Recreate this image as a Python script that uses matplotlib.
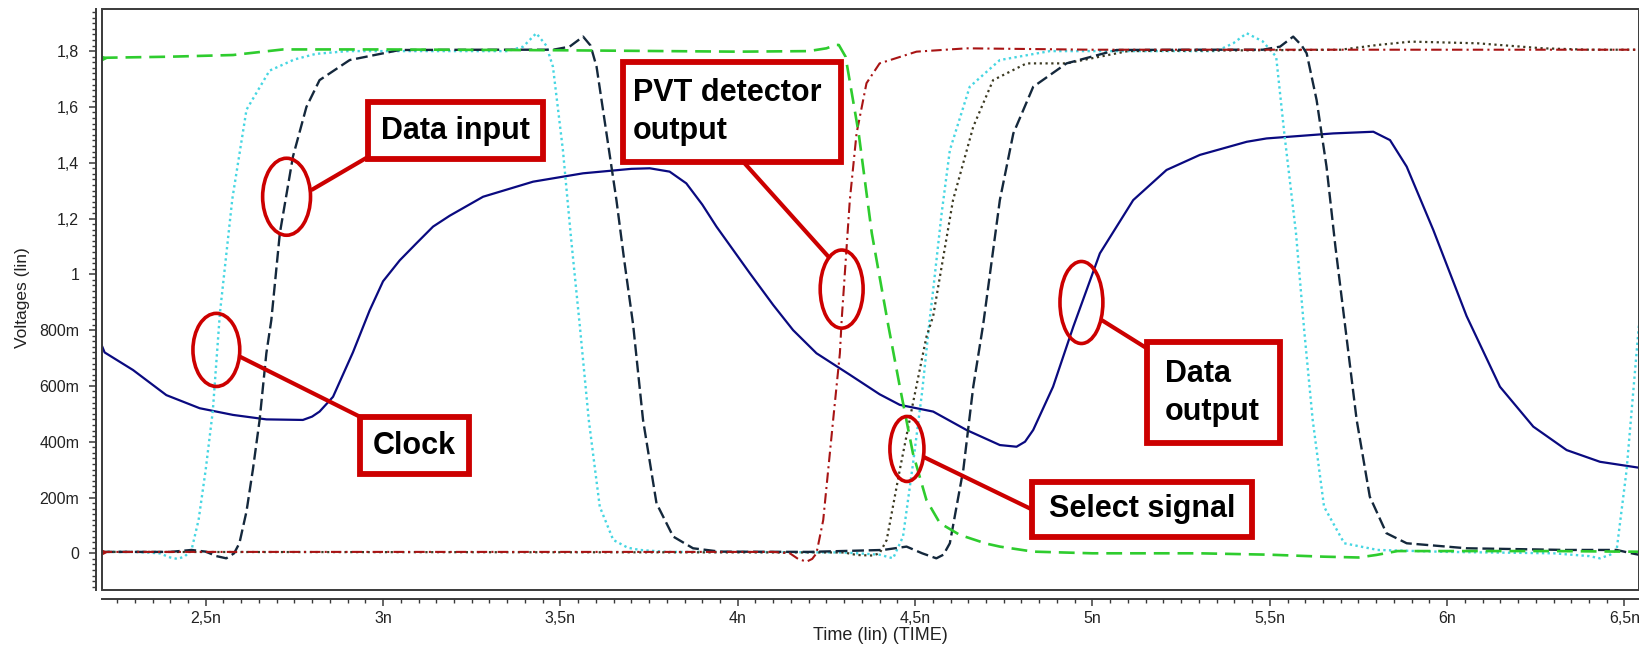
import matplotlib
matplotlib.use("Agg")
import matplotlib.pyplot as plt
from matplotlib import font_manager
from matplotlib.patches import Ellipse, Rectangle
from matplotlib.ticker import FuncFormatter, MultipleLocator

# --- waveforms (time in ns, voltage in V) ---
CLOCK_T = [2.207, 2.30, 2.37, 2.40, 2.42, 2.44, 2.46, 2.48, 2.50, 2.52, 2.54, 2.575, 2.615,
           2.68, 2.75, 2.81, 2.90, 3.00, 3.20, 3.35, 3.395, 3.432, 3.46, 3.479, 3.507, 3.530,
           3.555, 3.58, 3.611, 3.649, 3.69, 3.724, 3.80, 4.00, 4.30, 4.40, 4.438, 4.466, 4.494,
           4.52, 4.541, 4.551, 4.575, 4.598, 4.654, 4.739, 4.88, 5.00, 5.20, 5.35, 5.397, 5.435,
           5.48, 5.518, 5.541, 5.574, 5.597, 5.621, 5.653, 5.71, 5.804, 6.00, 6.30, 6.40, 6.431,
           6.46, 6.478, 6.506, 6.534, 6.56, 6.60]
CLOCK_V = [0.005, 0.005, 0.0, -0.015, -0.02, -0.012, 0.012, 0.12, 0.30, 0.51, 0.86, 1.27, 1.59,
           1.73, 1.77, 1.79, 1.80, 1.80, 1.80, 1.80, 1.816, 1.864, 1.82, 1.744, 1.446, 1.13,
           0.812, 0.478, 0.167, 0.048, 0.02, 0.012, 0.005, 0.005, 0.003, -0.005, -0.018, 0.06, 0.32,
           0.58, 0.836, 0.944, 1.22, 1.445, 1.672, 1.768, 1.80, 1.80, 1.80, 1.80, 1.828, 1.864,
           1.835, 1.78, 1.505, 1.147, 0.80, 0.478, 0.167, 0.036, 0.012, 0.005, 0.0, -0.01, -0.018,
           -0.005, 0.012, 0.298, 0.717, 1.10, 1.60]

DIN_T = [2.207, 2.40, 2.46, 2.50, 2.53, 2.558, 2.58, 2.595, 2.615, 2.633, 2.652, 2.671, 2.685,
         2.709, 2.746, 2.784, 2.821, 2.906, 3.047, 3.30, 3.48, 3.526, 3.564, 3.585, 3.602, 3.63,
         3.658, 3.68, 3.705, 3.733, 3.771, 3.818, 3.874, 3.95, 4.20, 4.41, 4.476, 4.52, 4.56,
         4.58, 4.598, 4.636, 4.664, 4.692, 4.739, 4.777, 4.833, 4.927, 5.068, 5.30, 5.48, 5.529,
         5.566, 5.59, 5.604, 5.632, 5.66, 5.685, 5.712, 5.745, 5.782, 5.829, 5.886, 6.055, 6.337,
         6.478, 6.52, 6.56]
DIN_V = [0.005, 0.005, 0.012, 0.006, -0.01, -0.018, 0.0, 0.036, 0.15, 0.30, 0.478, 0.717, 0.836,
         1.147, 1.422, 1.60, 1.696, 1.768, 1.804, 1.805, 1.805, 1.816, 1.852, 1.82, 1.744, 1.505,
         1.266, 1.05, 0.82, 0.478, 0.179, 0.06, 0.018, 0.006, 0.005, 0.012, 0.024, 0.0, -0.018,
         -0.005, 0.036, 0.30, 0.597, 0.82, 1.266, 1.505, 1.672, 1.756, 1.804, 1.805, 1.805, 1.816,
         1.852, 1.82, 1.792, 1.625, 1.386, 1.10, 0.82, 0.478, 0.203, 0.072, 0.036, 0.018, 0.012,
         0.012, 0.0, -0.01]

DOUT_T = [2.207, 2.215, 2.295, 2.389, 2.483, 2.577, 2.671, 2.774, 2.80, 2.821, 2.859, 2.915,
          2.962, 3.0, 3.047, 3.094, 3.141, 3.188, 3.282, 3.423, 3.564, 3.70, 3.752, 3.808, 3.855,
          3.90, 3.94, 4.034, 4.10, 4.156, 4.222, 4.316, 4.40, 4.457, 4.551, 4.645, 4.739, 4.786,
          4.81, 4.833, 4.889, 4.946, 5.021, 5.115, 5.209, 5.303, 5.435, 5.491, 5.679, 5.792,
          5.839, 5.886, 5.961, 6.055, 6.149, 6.243, 6.337, 6.431, 6.55]
DOUT_V = [0.745, 0.72, 0.657, 0.567, 0.52, 0.496, 0.48, 0.478, 0.49, 0.508, 0.561, 0.72,
          0.87, 0.975, 1.05, 1.111, 1.171, 1.21, 1.278, 1.332, 1.362, 1.378, 1.38, 1.368, 1.326,
          1.25, 1.171, 1.004, 0.89, 0.80, 0.717, 0.64, 0.57, 0.532, 0.508, 0.442, 0.388, 0.382,
          0.40, 0.442, 0.597, 0.812, 1.075, 1.266, 1.374, 1.428, 1.475, 1.487, 1.505, 1.511,
          1.481, 1.386, 1.159, 0.85, 0.597, 0.454, 0.37, 0.328, 0.305]

PVT_T = [2.207, 4.10, 4.147, 4.17, 4.194, 4.21, 4.222, 4.241, 4.269, 4.288, 4.293, 4.316,
         4.335, 4.363, 4.40, 4.504, 4.645, 5.0, 6.6]
PVT_V = [0.005, 0.005, 0.0, -0.02, -0.03, -0.02, 0.0, 0.119, 0.478, 0.717, 0.836, 1.266,
         1.505, 1.685, 1.756, 1.798, 1.81, 1.805, 1.805]

SEL_T = [2.207, 2.40, 2.577, 2.718, 3.0, 3.5, 4.0, 4.20, 4.25, 4.276, 4.285, 4.304, 4.341,
         4.378, 4.424, 4.457, 4.494, 4.532, 4.57, 4.626, 4.70, 4.739, 4.833, 5.00, 5.30, 5.50,
         5.65, 5.75, 5.80, 5.86, 6.0, 6.3, 6.6]
SEL_V = [1.776, 1.78, 1.786, 1.806, 1.806, 1.803, 1.798, 1.80, 1.81, 1.822, 1.822, 1.78, 1.505,
         1.147, 0.82, 0.597, 0.358, 0.191, 0.108, 0.066, 0.035, 0.024, 0.006, 0.0, 0.0, -0.005,
         -0.012, -0.015, -0.006, 0.008, 0.008, 0.008, 0.005]

AUX_T = [2.207, 4.30, 4.335, 4.38, 4.40, 4.42, 4.457, 4.494, 4.532, 4.551, 4.607, 4.664, 4.72,
         4.814, 4.927, 5.021, 5.10, 5.70, 5.804, 5.898, 6.086, 6.27, 6.40, 6.6]
AUX_V = [0.005, 0.003, -0.006, -0.008, 0.0, 0.048, 0.30, 0.538, 0.776, 0.85, 1.266, 1.529, 1.696,
         1.756, 1.756, 1.78, 1.80, 1.805, 1.822, 1.834, 1.828, 1.81, 1.805, 1.805]

X_RANGE = (2.207, 6.541)
Y_RANGE = (-0.1315, 1.951)

RED = "#cc0000"

installed = {f.name for f in font_manager.fontManager.ttflist}
SANS = "Liberation Sans" if "Liberation Sans" in installed else "DejaVu Sans"


def fmt_volt(v, _pos):
    if abs(v) < 1e-9:
        return "0"
    if v < 0.999:
        return f"{int(round(v * 1000))}m"
    return f"{v:g}".replace(".", ",")


def fmt_time(v, _pos):
    return f"{v:g}".replace(".", ",") + "n"


def callout(ax, box, text, text_xy, ellipse, line, ha="center"):
    bx, by, bw, bh = box
    ax.add_patch(Rectangle((bx, by), bw, bh, facecolor="white", edgecolor=RED,
                           linewidth=4.2, zorder=6, joinstyle="miter"))
    ax.text(text_xy[0], text_xy[1], text, ha=ha, va="center", fontsize=22,
            fontweight="bold", family=SANS, color="black", linespacing=1.35, zorder=7)
    ex, ey, ew, eh = ellipse
    ax.add_patch(Ellipse((ex, ey), ew, eh, facecolor="none", edgecolor=RED,
                         linewidth=2.6, zorder=6))
    ax.plot(line[0], line[1], color=RED, linewidth=3.0, zorder=5, solid_capstyle="butt")


fig = plt.figure(figsize=(16.39, 6.46), dpi=100)
ax = fig.add_axes([0.0621, 0.0867, 0.9379, 0.8994])

ax.plot(DOUT_T, DOUT_V, color="#0a0a80", linewidth=1.6, zorder=3)
ax.plot(CLOCK_T, CLOCK_V, color="#46d6e2", linewidth=1.7, linestyle=(0, (1, 1.4)), zorder=3)
ax.plot(AUX_T, AUX_V, color="#3c3a22", linewidth=1.6, linestyle=(0, (1, 1.6)), zorder=3)
ax.plot(DIN_T, DIN_V, color="#14283c", linewidth=1.7, linestyle=(0, (5, 2)), zorder=3)
ax.plot(PVT_T, PVT_V, color="#a81414", linewidth=1.5, linestyle=(0, (5, 2, 1, 2)), zorder=3,
        marker=">", markevery=[0], markersize=6)
ax.plot(SEL_T, SEL_V, color="#2ecc2e", linewidth=1.9, linestyle=(0, (6, 3)), zorder=3,
        marker=">", markevery=[0], markersize=6)

ax.set_xlim(*X_RANGE)
ax.set_ylim(*Y_RANGE)

# plot frame plus detached axes, like the waveform viewer
ax.add_patch(Rectangle((0, 0), 1, 1, transform=ax.transAxes, fill=False,
                       edgecolor="#3a3a3a", linewidth=1.4, clip_on=False, zorder=8))
for side in ("top", "right"):
    ax.spines[side].set_visible(False)
ax.spines["bottom"].set_position(("outward", 6.7))
ax.spines["left"].set_position(("outward", 4.3))
for side in ("bottom", "left"):
    ax.spines[side].set_color("#3a3a3a")
    ax.spines[side].set_linewidth(1.4)

ax.xaxis.set_major_locator(MultipleLocator(0.5))
ax.xaxis.set_minor_locator(MultipleLocator(0.05))
ax.yaxis.set_major_locator(MultipleLocator(0.2))
ax.yaxis.set_minor_locator(MultipleLocator(0.02))
ax.xaxis.set_major_formatter(FuncFormatter(fmt_time))
ax.yaxis.set_major_formatter(FuncFormatter(fmt_volt))
ax.tick_params(which="major", direction="out", length=5, width=1.1, color="#3a3a3a",
               labelsize=11.5, labelcolor="#222222")
ax.tick_params(which="minor", direction="out", length=3, width=1.0, color="#3a3a3a")
ax.tick_params(axis="x", pad=3.5)
ax.tick_params(axis="y", pad=7)
for lab in ax.get_xticklabels() + ax.get_yticklabels():
    lab.set_family(SANS)

fig.text(0.0137, 0.5395, "Voltages (lin)", rotation=90, ha="center", va="center",
         fontsize=12.5, family=SANS, color="#222222")
fig.text(0.537, 0.016, "Time (lin) (TIME)", ha="center", va="center",
         fontsize=13, family=SANS, color="#222222")

callout(ax, (2.957, 1.414, 0.493, 0.204), "Data input", (3.204, 1.515),
        (2.728, 1.278, 0.135, 0.276), ([2.798, 2.958], [1.302, 1.421]))
callout(ax, (2.934, 0.284, 0.308, 0.204), "Clock", (3.088, 0.386),
        (2.530, 0.729, 0.132, 0.262), ([2.596, 2.934], [0.705, 0.490]))
callout(ax, (3.677, 1.404, 0.613, 0.358), "PVT detector\noutput", (3.705, 1.583),
        (4.293, 0.947, 0.121, 0.28), ([4.015, 4.260], [1.404, 1.057]), ha="left")
callout(ax, (5.153, 0.394, 0.376, 0.364), "Data\noutput", (5.204, 0.576),
        (4.969, 0.899, 0.121, 0.294), ([5.026, 5.153], [0.836, 0.735]), ha="left")
callout(ax, (4.831, 0.0595, 0.619, 0.197), "Select signal", (5.14, 0.158),
        (4.477, 0.374, 0.096, 0.233), ([4.523, 4.833], [0.346, 0.155]))

fig.savefig("out.png", dpi=100)
